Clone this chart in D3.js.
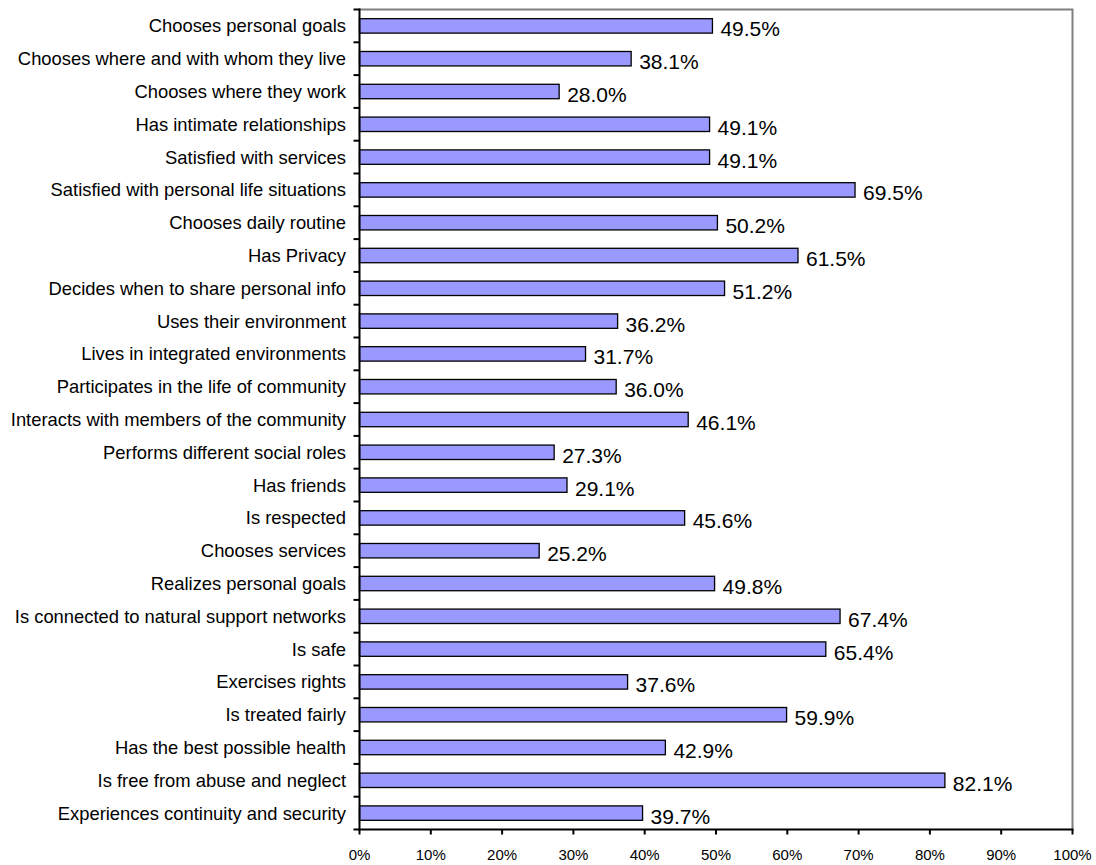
<!DOCTYPE html>
<html><head><meta charset="utf-8">
<script src="https://cdn.jsdelivr.net/npm/d3@7"></script>
<style>body{margin:0;background:#fff}svg{display:block}text{font-family:"Liberation Sans",Arial,sans-serif;fill:#000}</style>
</head><body><svg id="c" width="1096" height="865"></svg>
<script>
const categories = [
"Chooses personal goals","Chooses where and with whom they live","Chooses where they work","Has intimate relationships",
"Satisfied with services","Satisfied with personal life situations","Chooses daily routine","Has Privacy",
"Decides when to share personal info","Uses their environment","Lives in integrated environments","Participates in the life of community",
"Interacts with members of the community","Performs different social roles","Has friends","Is respected",
"Chooses services","Realizes personal goals","Is connected to natural support networks","Is safe",
"Exercises rights","Is treated fairly","Has the best possible health","Is free from abuse and neglect",
"Experiences continuity and security"];
const values = [49.5,38.1,28.0,49.1,49.1,69.5,50.2,61.5,51.2,36.2,31.7,36.0,46.1,27.3,29.1,45.6,25.2,49.8,67.4,65.4,37.6,59.9,42.9,82.1,39.7];
const tickValues = [0,10,20,30,40,50,60,70,80,90,100];
const tickLabels = ["0%","10%","20%","30%","40%","50%","60%","70%","80%","90%","100%"];

const L=359.5, R=1072.5, T=9.5, B=829.5;
const svg=d3.select("#c");
const x=d3.scaleLinear().domain([0,100]).range([L,R]);
const y=d3.scaleBand().domain(categories).range([T,B]).paddingInner(0.56).paddingOuter(0.28);

svg.append("path").attr("d",`M${L},${T}H${R}V${B}`).attr("fill","none").attr("stroke","#808080").attr("stroke-width",2);

svg.selectAll("rect.bar").data(values).enter().append("rect")
 .attr("x",x(0)).attr("y",(d,i)=>y(categories[i]))
 .attr("width",d=>x(d)-x(0)).attr("height",y.bandwidth())
 .attr("fill","#9999FF").attr("stroke","#000").attr("stroke-width",1.3);

svg.selectAll("text.val").data(values).enter().append("text")
 .attr("x",d=>x(d)+8).attr("y",(d,i)=>y(categories[i])+y.bandwidth()/2+10.5)
 .attr("font-size",21).text(d=>d.toFixed(1)+"%");

const step=(B-T)/categories.length;
const g=svg.append("g");
g.append("line").attr("x1",L).attr("x2",L).attr("y1",T-1).attr("y2",B+1).attr("stroke","#000").attr("stroke-width",2);
d3.range(categories.length+1).forEach(i=>{
  g.append("line").attr("x1",L-6).attr("x2",L).attr("y1",T+i*step).attr("y2",T+i*step).attr("stroke","#000").attr("stroke-width",2);
});
svg.selectAll("text.cat").data(categories).enter().append("text")
 .attr("x",346).attr("y",d=>y(d)+y.bandwidth()/2+6.5).attr("text-anchor","end").attr("font-size",18.4).text(d=>d);

svg.append("line").attr("x1",L-1).attr("x2",R+1).attr("y1",B).attr("y2",B).attr("stroke","#000").attr("stroke-width",2);
tickValues.forEach((v,i)=>{
  svg.append("line").attr("x1",x(v)).attr("x2",x(v)).attr("y1",B).attr("y2",B+5).attr("stroke","#000").attr("stroke-width",2);
  svg.append("text").attr("x",x(v)).attr("y",860).attr("text-anchor","middle").attr("font-size",15).text(tickLabels[i]);
});
</script></body></html>
